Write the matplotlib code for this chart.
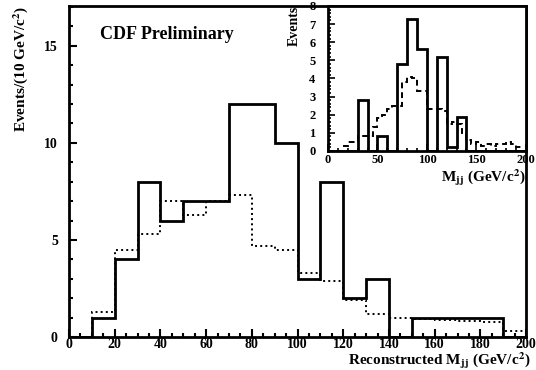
import numpy as np
import matplotlib
matplotlib.use("Agg")
import matplotlib.pyplot as plt
from matplotlib.ticker import MultipleLocator

plt.rcParams['font.family'] = ['Liberation Serif', 'DejaVu Serif']
plt.rcParams['font.weight'] = 'bold'
plt.rcParams['axes.labelweight'] = 'bold'
plt.rcParams['mathtext.fontset'] = 'stix'
plt.rcParams['mathtext.default'] = 'bf'

# main plot: 10 GeV bins from 0 to 200
edges = np.arange(0, 201, 10)
data_counts = [0, 1, 4, 8, 6, 7, 7, 12, 12, 10, 3, 8, 2, 3, 0, 1, 1, 1, 1, 0]
model_counts = [0, 1.3, 4.5, 5.3, 7.0, 6.3, 7.0, 7.3, 4.7, 4.5,
                3.3, 2.9, 1.9, 1.2, 1.0, 0.95, 0.9, 0.8, 0.75, 0.3]

# inset: data in 10 GeV bins, expectation in 5 GeV bins
inset_edges = np.arange(0, 201, 10)
inset_counts = [0, 0, 0, 2.8, 0, 0.8, 0, 4.8, 7.3, 5.6,
                0, 5.2, 0.2, 1.9, 0, 0, 0, 0, 0, 0]
inset_fine_edges = np.arange(15, 201, 5)
inset_expect = [0.3, 0.5, 0.5, 0.8, 0.8, 0.8, 1.3, 1.8, 2.0, 2.3, 2.5,
                2.5, 3.8, 4.1, 4.0, 3.3, 3.3, 2.3, 2.3, 2.3, 2.2, 1.5,
                1.6, 1.5, 1.0, 0.6, 0.4, 0.5, 0.3, 0.4, 0.3, 0.4, 0.4,
                0.5, 0.4, 0.2, 0.0]

fig = plt.figure(figsize=(5.36, 3.70), dpi=100)
ax = fig.add_axes([0.1287, 0.0892, 0.853, 0.8946])

ax.stairs(data_counts, edges, color='black', linewidth=2.0, baseline=0)
ax.stairs(model_counts, edges, color='black', linewidth=1.4,
          linestyle=':', baseline=None)

ax.set_xlim(0, 200)
ax.set_ylim(0, 17.05)
ax.xaxis.set_major_locator(MultipleLocator(20))
ax.xaxis.set_minor_locator(MultipleLocator(5))
ax.yaxis.set_major_locator(MultipleLocator(5))
ax.yaxis.set_minor_locator(MultipleLocator(1))
ax.tick_params(which='both', direction='in', width=1.5, labelsize=10)
ax.tick_params(axis='x', pad=1)
ax.tick_params(axis='y', pad=8)
ax.tick_params(which='major', length=6)
ax.tick_params(which='minor', length=3)
for s in ax.spines.values():
    s.set_linewidth(2.0)

ax.set_xlabel(r'Reconstructed M$_{jj}$ (GeV/c$^{2}$)', fontsize=11,
              ha='right', va='baseline')
ax.xaxis.set_label_coords(1.01, -0.083)
ax.set_ylabel(r'Events/(10 GeV/c$^{2}$)', fontsize=11, loc='top',
              labelpad=10)
ax.text(13.5, 15.6, 'CDF Preliminary', fontsize=13, va='center')

ins = fig.add_axes([0.612, 0.592, 0.369, 0.392])
ins.stairs(inset_counts, inset_edges, color='black', linewidth=2.0, baseline=0)
ins.stairs(inset_expect, inset_fine_edges, color='black', linewidth=1.4,
           linestyle=(0, (3, 2)), baseline=None)
ins.set_xlim(0, 200)
ins.set_ylim(0, 8)
ins.xaxis.set_major_locator(MultipleLocator(50))
ins.xaxis.set_minor_locator(MultipleLocator(10))
ins.yaxis.set_major_locator(MultipleLocator(1))
ins.yaxis.set_minor_locator(MultipleLocator(0.2))
ins.tick_params(which='both', direction='in', width=1.2, labelsize=9, pad=2)
ins.tick_params(axis='y', pad=9)
ins.tick_params(which='major', length=5)
ins.tick_params(which='minor', length=2.5)
for s in ins.spines.values():
    s.set_linewidth(2.0)
ins.set_xlabel(r'M$_{jj}$ (GeV/c$^{2}$)', fontsize=11, ha='right',
               va='baseline')
ins.xaxis.set_label_coords(1.0, -0.21)
ins.set_ylabel('Events', fontsize=10, loc='top', labelpad=6)

fig.savefig('out.png', dpi=100)
